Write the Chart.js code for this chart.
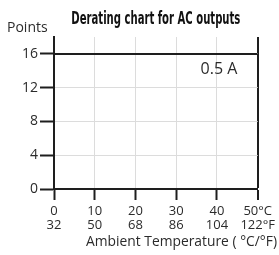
<!DOCTYPE html>
<html>
<head>
<meta charset="utf-8">
<script src="https://cdn.jsdelivr.net/npm/chart.js@4"></script>
<style>
body { margin: 0; background: #fff; }
#wrap { width: 279px; height: 255px; }
</style>
</head>
<body>
<div id="wrap"><canvas id="myChart1"></canvas></div>
<script>
// data
let tempC = [0, 10, 20, 30, 40, 50];
let tempF = [32, 50, 68, 86, 104, 122];
let points = [16, 16, 16, 16, 16, 16];
let seriesLabel = '0.5 A';
let yTicks = [0, 4, 8, 12, 16];

const textColor = '#2b2b2b';
const axisColor = '#1e1e1e';
const gridColor = '#dcdcdc';
const labelFont = '"Open Sans", "DejaVu Sans", sans-serif';

let lineData = [];
for (var i in tempC) {
  lineData.push({x: tempC[i], y: points[i]});
}

// titles and the in-plot label
const textPlugin = {
  id: 'texts',
  afterDraw(chart) {
    const ctx = chart.ctx;
    const a = chart.chartArea;
    const xs = chart.scales.x;
    const ys = chart.scales.y;
    ctx.save();
    ctx.fillStyle = '#111';
    ctx.textAlign = 'center';
    ctx.textBaseline = 'alphabetic';
    ctx.font = 'bold 17px "DejaVu Sans Condensed", "Liberation Sans Narrow", sans-serif';
    ctx.fillText('Derating chart for AC outputs', (a.left + a.right) / 2, 24, 169);

    ctx.fillStyle = textColor;
    ctx.font = '14px ' + labelFont;
    ctx.textAlign = 'left';
    ctx.fillText('Points', 7, 32);

    ctx.font = '15px ' + labelFont;
    ctx.textAlign = 'right';
    ctx.fillText('Ambient Temperature ( \u00B0C/\u00B0F)', 277, 246, 191);

    ctx.font = '16px ' + labelFont;
    ctx.textAlign = 'center';
    ctx.fillText(seriesLabel, xs.getPixelForValue(40.5), ys.getPixelForValue(16) + 20);
    ctx.restore();
  }
};

const data = {
  datasets: [{
    label: seriesLabel,
    data: lineData,
    borderColor: axisColor,
    borderWidth: 2,
    pointRadius: 0,
    fill: false
  }]
};

const config = {
  type: 'line',
  data: data,
  plugins: [textPlugin],
  options: {
    responsive: false,
    animation: false,
    layout: { padding: { top: 37, right: 18, left: 0, bottom: 0 } },
    plugins: {
      legend: { display: false },
      title: { display: false },
      tooltip: { enabled: false }
    },
    scales: {
      x: {
        type: 'linear',
        min: 0,
        max: 50,
        afterFit: function(scale) { scale.height = 66; },
        afterBuildTicks: function(scale) {
          scale.ticks = tempC.map(v => ({value: v}));
        },
        border: { color: axisColor, width: 2 },
        grid: {
          color: ctx => (ctx.tick && ctx.tick.value === 50) ? axisColor : gridColor,
          lineWidth: ctx => (ctx.tick && ctx.tick.value === 50) ? 2 : 1,
          tickColor: axisColor,
          tickLength: 11,
          tickWidth: 2
        },
        ticks: {
          maxRotation: 0,
          autoSkip: false,
          padding: 4,
          color: textColor,
          font: { family: labelFont, size: 13, lineHeight: 1.08 },
          callback: function(v, idx) {
            let c = tempC.indexOf(v);
            if (c < 0) return '';
            if (c == tempC.length - 1) return [tempC[c] + '\u00B0C', tempF[c] + '\u00B0F'];
            return [String(tempC[c]), String(tempF[c])];
          }
        }
      },
      y: {
        min: 0,
        max: 18,
        afterFit: function(scale) { scale.width = 54; },
        border: { color: axisColor, width: 2 },
        grid: {
          color: ctx => (ctx.tick && ctx.tick.value === 18) ? axisColor : gridColor,
          lineWidth: ctx => (ctx.tick && ctx.tick.value === 18) ? 2 : 1,
          tickColor: ctx => (ctx.tick && yTicks.indexOf(ctx.tick.value) >= 0) ? axisColor : 'rgba(0,0,0,0)',
          tickLength: 14,
          tickWidth: 2
        },
        ticks: {
          stepSize: 2,
          padding: 2,
          color: textColor,
          font: { family: labelFont, size: 14 },
          callback: function(v) { return yTicks.indexOf(v) >= 0 ? v : ''; }
        }
      }
    }
  }
};

const cv = document.getElementById('myChart1');
cv.width = 279;
cv.height = 255;
const myChart1 = new Chart(cv, config);
</script>
</body>
</html>
